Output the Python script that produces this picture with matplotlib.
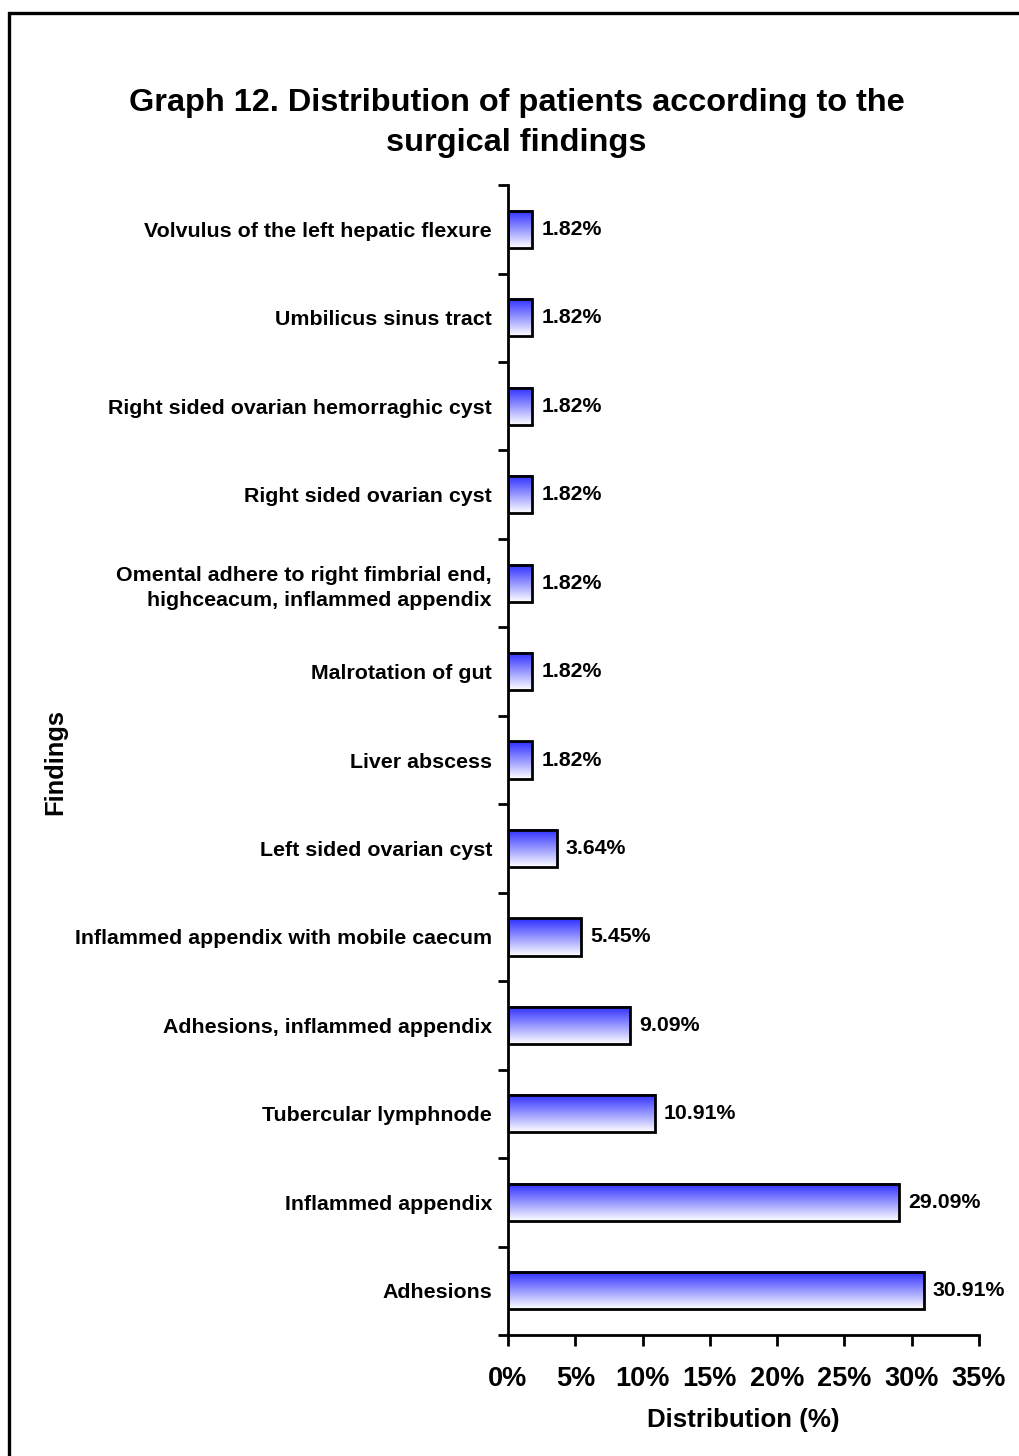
import matplotlib.pyplot as plt
import matplotlib.patches as patches
import numpy as np
from matplotlib.colors import LinearSegmentedColormap

plt.rcParams['font.family'] = ['Liberation Sans', 'DejaVu Sans']
plt.rcParams['font.weight'] = 'bold'

# Findings, listed bottom to top
findings = [
    'Adhesions',
    'Inflammed appendix',
    'Tubercular lymphnode',
    'Adhesions, inflammed appendix',
    'Inflammed appendix with mobile caecum',
    'Left sided ovarian cyst',
    'Liver abscess',
    'Malrotation of gut',
    'Omental adhere to right fimbrial end,\nhighceacum, inflammed appendix',
    'Right sided ovarian cyst',
    'Right sided ovarian hemorraghic cyst',
    'Umbilicus sinus tract',
    'Volvulus of the left hepatic flexure',
]
percent = [30.91, 29.09, 10.91, 9.09, 5.45, 3.64, 1.82, 1.82, 1.82, 1.82, 1.82, 1.82, 1.82]
xticks = [0, 5, 10, 15, 20, 25, 30, 35]

fig = plt.figure(figsize=(10.19, 14.56), dpi=100)
ax = fig.add_axes([0.4985, 0.0831, 0.4622, 0.7898])

# outer frame (only top/left visible)
frame = patches.Rectangle((9 / 1019, -0.1), 1.2, 1.1 - 13 / 1456,
                          transform=fig.transFigure, fill=False,
                          edgecolor='black', linewidth=2.4, zorder=0)
fig.patches.append(frame)

grad = LinearSegmentedColormap.from_list('bw', ['#ffffff', '#2c2cff'])
g = np.linspace(0, 1, 256).reshape(-1, 1)
h = 0.42
for i, v in enumerate(percent):
    ax.imshow(g, cmap=grad, origin='lower', aspect='auto',
              extent=[0, v, i - h / 2, i + h / 2], zorder=2)
    ax.barh(i, v, height=h, facecolor='none', edgecolor='black',
            linewidth=2, zorder=3)
    ax.text(v + 0.65, i, f'{v:.2f}%', va='center', ha='left',
            fontsize=15.3, fontweight='bold')

ax.set_xlim(0, 35)
ax.set_ylim(-0.5, len(findings) - 0.5)
ax.set_xticks(xticks)
ax.set_xticklabels([f'{t}%' for t in xticks], fontsize=19.5, fontweight='bold')
ax.set_yticks(range(len(findings)))
ax.set_yticklabels(findings, fontsize=15.4, fontweight='bold')
for lbl in ax.get_yticklabels():
    lbl.set_linespacing(1.36)
ax.set_yticks(np.arange(-0.5, len(findings), 1), minor=True)
ax.tick_params(axis='y', which='major', length=0, pad=11.5)
ax.tick_params(axis='y', which='minor', length=7, width=2)
ax.tick_params(axis='x', length=8, width=2, pad=14)

for s in ['top', 'right']:
    ax.spines[s].set_visible(False)
for s in ['left', 'bottom']:
    ax.spines[s].set_linewidth(2)

ax.set_xlabel('Distribution (%)', fontsize=18.6, fontweight='bold', labelpad=12)
fig.text(55 / 1019, 1 - 762 / 1456, 'Findings', rotation=90, fontsize=18.4,
         fontweight='bold', ha='center', va='center')

fig.text(0.507, 1 - 123 / 1456,
         'Graph 12. Distribution of patients according to the\nsurgical findings',
         ha='center', va='center', fontsize=23.4, fontweight='bold',
         linespacing=1.43)

fig.savefig('out.png', dpi=100)
